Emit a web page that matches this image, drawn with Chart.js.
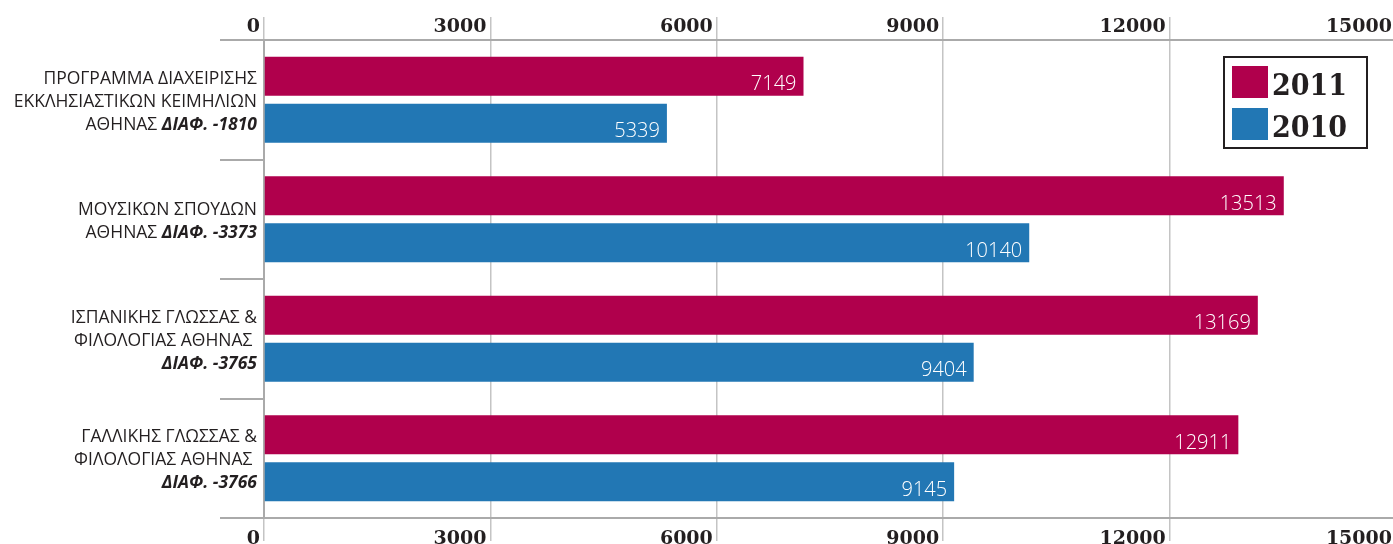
<!DOCTYPE html>
<html>
<head>
<meta charset="utf-8">
<script src="https://cdn.jsdelivr.net/npm/chart.js@4/dist/chart.umd.min.js"></script>
<style>
  html, body { margin: 0; padding: 0; background: #fff; overflow: hidden; }
  #wrap { position: relative; width: 1393px; height: 544px; overflow: hidden; }
  #box { position: absolute; left: 0; top: 0; width: 1400px; height: 546px; }
</style>
</head>
<body>
<div id="wrap"><div id="box"><canvas id="c"></canvas></div></div>
<script>
// ---- data ----
const categoryLines = [
  ['ΠΡΟΓΡΑΜΜΑ ΔΙΑΧΕΙΡΙΣΗΣ', 'ΕΚΚΛΗΣΙΑΣΤΙΚΩΝ ΚΕΙΜΗΛΙΩΝ', 'ΑΘΗΝΑΣ'],
  ['ΜΟΥΣΙΚΩΝ ΣΠΟΥΔΩΝ', 'ΑΘΗΝΑΣ'],
  ['ΙΣΠΑΝΙΚΗΣ ΓΛΩΣΣΑΣ &', 'ΦΙΛΟΛΟΓΙΑΣ ΑΘΗΝΑΣ ', ''],
  ['ΓΑΛΛΙΚΗΣ ΓΛΩΣΣΑΣ &', 'ΦΙΛΟΛΟΓΙΑΣ ΑΘΗΝΑΣ ', '']
];
const categoryCodes = ['ΔΙΑΦ. -1810', 'ΔΙΑΦ. -3373', 'ΔΙΑΦ. -3765', 'ΔΙΑΦ. -3766'];
const seriesNames = ['2011', '2010'];
const values2011 = [7149, 13513, 13169, 12911];
const values2010 = [5339, 10140, 9404, 9145];
const tickValues = [0, 3000, 6000, 9000, 12000, 15000];

const COL_2011 = '#b0004c';
const COL_2010 = '#2277b4';
const TEXT = '#231f20';

const labels = categoryLines.map((l, i) => l.join(' ') + ' ' + categoryCodes[i]);

// category labels with bold-italic code part
const categoryLabelPlugin = {
  id: 'categoryLabels',
  afterDraw(chart) {
    const ctx = chart.ctx;
    const yScale = chart.scales.y;
    const regular = '400 17.5px "Open Sans", "Noto Sans", sans-serif';
    const boldIt = 'italic 700 17.5px "Open Sans", "Noto Sans", sans-serif';
    const lh = 23;
    const right = yScale.right - 7;
    ctx.save();
    ctx.fillStyle = TEXT;
    ctx.textBaseline = 'middle';
    ctx.textAlign = 'left';
    categoryLines.forEach((lines, i) => {
      const cy = yScale.getPixelForValue(i) + 2;
      const n = lines.length;
      lines.forEach((line, j) => {
        const y = cy + (j - (n - 1) / 2) * lh;
        const segs = [];
        if (j === n - 1) {
          if (line) segs.push([line + ' ', regular]);
          segs.push([categoryCodes[i], boldIt]);
        } else {
          segs.push([line, regular]);
        }
        let total = 0;
        segs.forEach(s => { ctx.font = s[1]; total += ctx.measureText(s[0]).width; });
        let x = right - total;
        segs.forEach(s => { ctx.font = s[1]; ctx.fillText(s[0], x, y); x += ctx.measureText(s[0]).width; });
      });
    });
    ctx.restore();
  }
};

// value labels inside bar ends
const valueLabelPlugin = {
  id: 'valueLabels',
  afterDatasetsDraw(chart) {
    const ctx = chart.ctx;
    ctx.save();
    ctx.font = '300 20px "Open Sans", "Noto Sans", sans-serif';
    ctx.fillStyle = '#ffffff';
    ctx.textAlign = 'right';
    ctx.textBaseline = 'alphabetic';
    chart.data.datasets.forEach((ds, di) => {
      chart.getDatasetMeta(di).data.forEach((bar, i) => {
        ctx.fillText(String(ds.data[i]), bar.x - 7, bar.y + 14);
      });
    });
    ctx.restore();
  }
};

// boxed legend
const boxLegendPlugin = {
  id: 'boxLegend',
  afterDraw(chart) {
    const ctx = chart.ctx;
    const x0 = 1224, y0 = 57, w = 143, h = 91;
    ctx.save();
    ctx.fillStyle = '#fff';
    ctx.fillRect(x0, y0, w, h);
    ctx.strokeStyle = TEXT;
    ctx.lineWidth = 2;
    ctx.strokeRect(x0, y0, w, h);
    ctx.font = 'bold 30px "DejaVu Serif Condensed", "DejaVu Serif", serif';
    ctx.textAlign = 'left';
    ctx.textBaseline = 'alphabetic';
    chart.data.datasets.forEach((ds, i) => {
      const sy = y0 + 9 + i * 42;
      ctx.fillStyle = ds.backgroundColor;
      ctx.fillRect(x0 + 8, sy, 36, 32);
      ctx.fillStyle = TEXT;
      ctx.fillText(ds.label, x0 + 48, sy + 29);
    });
    ctx.restore();
  }
};

const fmt = v => String(v);
const gridCol = '#c4c4c4';

new Chart(document.getElementById('c'), {
  type: 'bar',
  data: {
    labels: labels,
    datasets: [
      { label: seriesNames[0], data: values2011, backgroundColor: COL_2011 },
      { label: seriesNames[1], data: values2010, backgroundColor: COL_2010 }
    ]
  },
  options: {
    indexAxis: 'y',
    responsive: true,
    maintainAspectRatio: false,
    animation: false,
    datasets: { bar: { categoryPercentage: 0.787, barPercentage: 0.83 } },
    layout: { padding: { left: 220, right: 4, top: 11, bottom: 0 } },
    plugins: { legend: { display: false }, tooltip: { enabled: false } },
    scales: {
      x: {
        position: 'bottom',
        min: 0, max: 15000,
        afterBuildTicks: s => { s.ticks = tickValues.map(v => ({ value: v })); },
        ticks: { callback: fmt, font: { family: '"DejaVu Serif", serif', weight: 'bold', size: 19, lineHeight: 9 / 19 },
                 color: TEXT, align: 'end', crossAlign: 'far', labelOffset: -4, padding: -2, maxRotation: 0, autoSkip: false },
        grid: { color: gridCol, lineWidth: 1.5, tickLength: 23 },
        border: { display: true, color: '#aaaaaa', width: 2 }
      },
      x2: {
        position: 'top',
        axis: 'x',
        min: 0, max: 15000,
        afterBuildTicks: s => { s.ticks = tickValues.map(v => ({ value: v })); },
        ticks: { callback: fmt, font: { family: '"DejaVu Serif", serif', weight: 'bold', size: 19, lineHeight: 26 / 19 },
                 color: TEXT, align: 'end', crossAlign: 'center', labelOffset: -4, padding: -10, maxRotation: 0, autoSkip: false },
        grid: { color: gridCol, lineWidth: 1.5, tickLength: 23, drawOnChartArea: false },
        border: { display: true, color: '#aaaaaa', width: 2 }
      },
      y: {
        ticks: { display: false },
        grid: { offset: true, drawOnChartArea: false, tickLength: 44, color: '#aaaaaa', lineWidth: 2 },
        border: { display: true, color: '#aaaaaa', width: 2 }
      }
    }
  },
  plugins: [valueLabelPlugin, categoryLabelPlugin, boxLegendPlugin]
});
</script>
</body>
</html>
